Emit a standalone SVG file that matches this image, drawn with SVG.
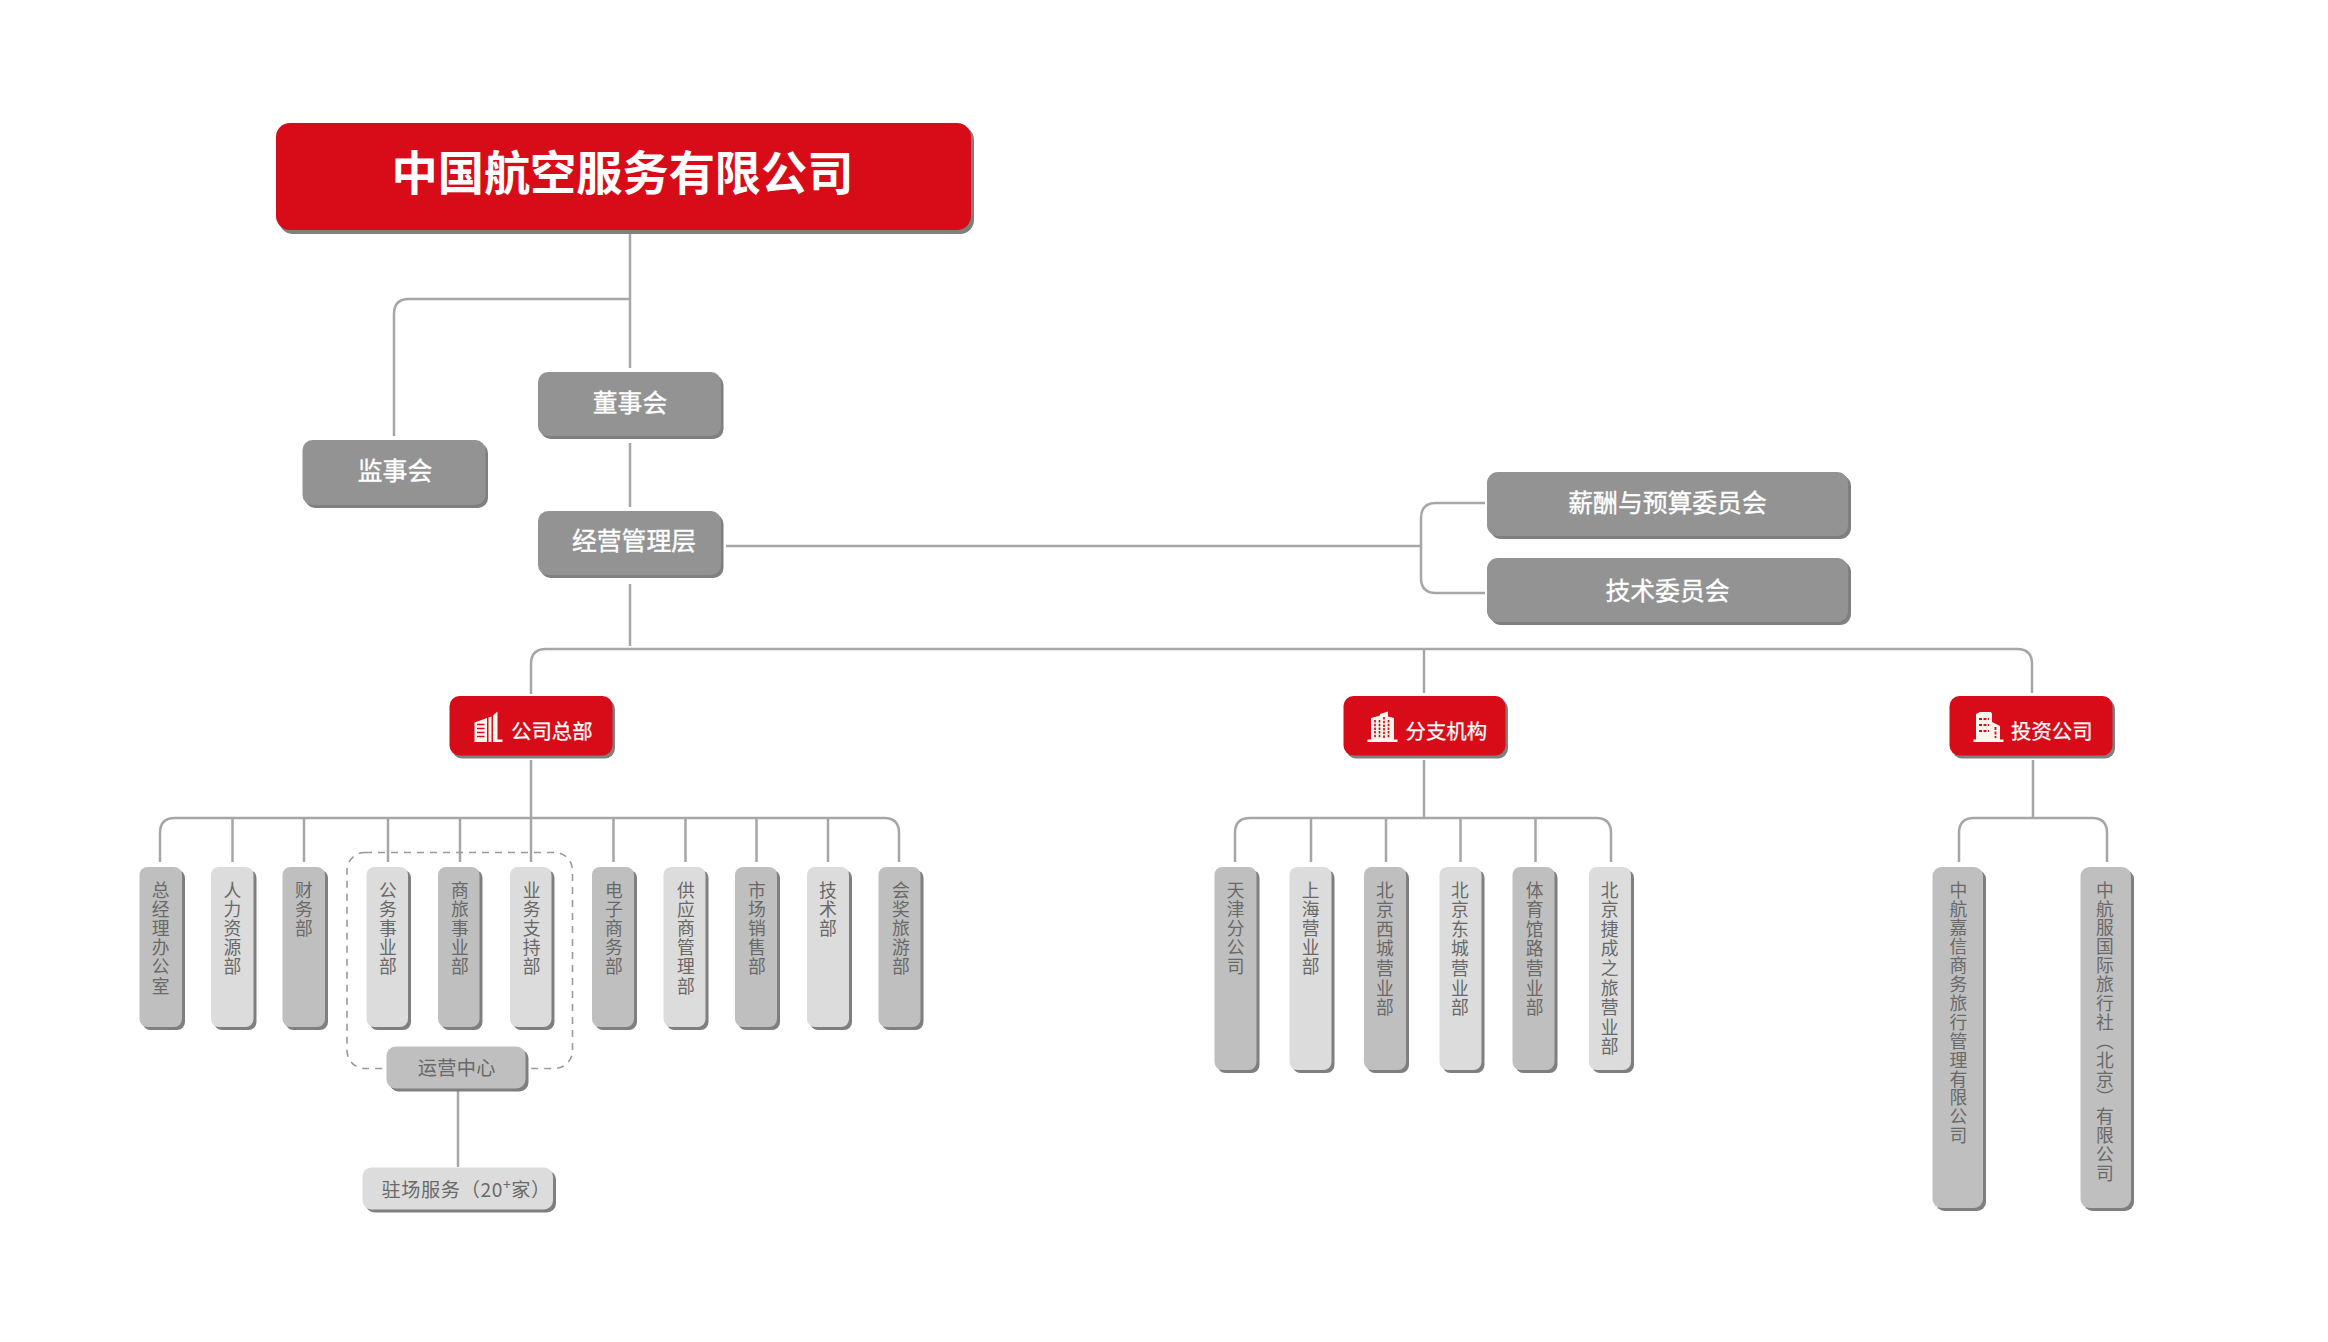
<svg xmlns="http://www.w3.org/2000/svg" width="2328" height="1342" viewBox="0 0 2328 1342">
<style>
text{font-family:"Noto Sans CJK SC","Liberation Sans",sans-serif}
.c{fill:none;stroke:#a6a6a6;stroke-width:2.5}
.d{fill:none;stroke:#999;stroke-width:1.6;stroke-dasharray:7 6}
.sh{fill:#7f7f7f}
.red{fill:#d80c18}
.g1{fill:#939393}
.g2{fill:#bfbfbf}
.g3{fill:#dcdcdc}
.w{fill:#fff;font-size:24.8px;text-anchor:middle;stroke:#fff;stroke-width:.35}
.w2{fill:#fff;font-size:20.4px;text-anchor:start;stroke:#fff;stroke-width:.25}
.t{fill:#696969;font-size:19.2px;text-anchor:middle;letter-spacing:.3px}
.v{fill:#696969;font-size:17.8px;letter-spacing:1.4px;writing-mode:vertical-rl}
.v2{fill:#696969;font-size:17.8px;letter-spacing:1.8px;writing-mode:vertical-rl}
.v3{fill:#696969;font-size:17.8px;letter-spacing:1.1px;writing-mode:vertical-rl}
.ic{fill:#fff6ee}
.win{fill:none;stroke:#d80c18}
</style>
<g id="connectors">
<path class="c" d="M630 234V368"/>
<path class="c" d="M630 299H409Q394 299 394 314V436"/>
<path class="c" d="M630 443V507"/>
<path class="c" d="M630 584V646"/>
<path class="c" d="M726 546H1421"/>
<path class="c" d="M1485 503H1436Q1421 503 1421 518V578Q1421 593 1436 593H1485"/>
<path class="c" d="M531 694V664Q531 649 546 649H2017Q2032 649 2032 664V693"/>
<path class="c" d="M1424 649V693"/>
<path class="c" d="M531 760V862"/>
<path class="c" d="M160 862V833Q160 818 175 818H884Q899 818 899 833V862"/>
<path class="c" d="M232.500 818V862M304 818V862M388 818V862M460 818V862M613.500 818V862M685.500 818V862M756.500 818V862M828 818V862"/>
<path class="c" d="M1424 760V818"/>
<path class="c" d="M1235 862V833Q1235 818 1250 818H1596Q1611 818 1611 833V862"/>
<path class="c" d="M1311 818V862M1386 818V862M1460.500 818V862M1535.500 818V862"/>
<path class="c" d="M2033 760V818"/>
<path class="c" d="M1959 862V833Q1959 818 1974 818H2092Q2107 818 2107 833V862"/>
<path class="c" d="M458 1091V1167"/>
<rect class="d" x="347" y="852.500" width="225.500" height="216" rx="18"/>
</g>

<g id="root"><rect class="sh" x="279" y="126" width="695" height="108" rx="14"/><rect class="red" x="276" y="123" width="695" height="107" rx="14"/><text x="622.500" y="190" fill="#fff" font-size="46.200" font-weight="700" text-anchor="middle">中国航空服务有限公司</text></g>
<g id="board"><rect class="sh" x="540.500" y="375" width="183" height="64" rx="10"/><rect class="g1" x="538" y="372" width="183" height="64" rx="10"/><text class="w" x="630" y="412">董事会</text></g>
<g id="supervisors"><rect class="sh" x="305" y="443" width="183" height="65" rx="10"/><rect class="g1" x="302.500" y="440" width="183" height="65" rx="10"/><text class="w" x="395" y="480">监事会</text></g>
<g id="management"><rect class="sh" x="540.500" y="514" width="183" height="64" rx="10"/><rect class="g1" x="538" y="511" width="183" height="64" rx="10"/><text class="w" x="634" y="550">经营管理层</text></g>
<g id="committee1"><rect class="sh" x="1490" y="475" width="361" height="64" rx="11"/><rect class="g1" x="1487" y="472" width="361" height="64" rx="11"/><text class="w" x="1667.500" y="512">薪酬与预算委员会</text></g>
<g id="committee2"><rect class="sh" x="1490" y="561" width="361" height="64" rx="11"/><rect class="g1" x="1487" y="558" width="361" height="64" rx="11"/><text class="w" x="1667.500" y="600">技术委员会</text></g>

<g id="hq"><rect class="sh" x="452" y="699" width="163" height="59.500" rx="10"/><rect class="red" x="449.500" y="696" width="163" height="59.500" rx="10"/>
<path class="ic" d="M474.500 722.500L487 718V742H474.500ZM488.500 717.500L491.500 716.500V742H488.500ZM493 715.500L497.500 711.500V739.500H502.500V742H493Z"/>
<path class="win" stroke-width="1.500" d="M477 724.500H484.500M477 728.500H484.500M477 732.500H484.500M477 736.500H484.500"/>
<text class="w2" x="511" y="739">公司总部</text></g>
<g id="branch"><rect class="sh" x="1346" y="699" width="162" height="59.500" rx="10"/><rect class="red" x="1343.500" y="696" width="162" height="59.500" rx="10"/>
<path class="ic" d="M1371 739.500V718L1380 715.500V714L1388 711.500V716.500L1394 718V739.500H1397.500V742H1367.500V739.500Z"/>
<path class="win" stroke-width="1.700" stroke-dasharray="2.500 1.200" d="M1375 720V738M1379.500 720V738M1384 717V738M1388.500 720V738"/>
<text class="w2" x="1405.500" y="739">分支机构</text></g>
<g id="invest"><rect class="sh" x="1952" y="699" width="163" height="59.500" rx="10"/><rect class="red" x="1949.500" y="696" width="163" height="59.500" rx="10"/>
<path class="ic" d="M1976 739.500V714L1980 712H1991L1992 714V722L2000 726V739.500H2003.500V742H1973.500V739.500Z"/>
<path class="win" stroke-width="1.800" stroke-dasharray="3 1.500" d="M1979 719H1989M1979 725H1989M1979 731H1989M1995.500 727V738"/>
<text class="w2" x="2011" y="739">投资公司</text></g>

<g id="d1"><rect class="sh" x="142.500" y="870" width="42.500" height="160" rx="8"/><rect class="g2" x="139.500" y="867" width="42.500" height="160" rx="8"/><text class="v" x="160.700" y="881">总经理办公室</text></g>
<g id="d2"><rect class="sh" x="214" y="870" width="42.500" height="160" rx="8"/><rect class="g3" x="211" y="867" width="42.500" height="160" rx="8"/><text class="v" x="232.500" y="881">人力资源部</text></g>
<g id="d3"><rect class="sh" x="285.500" y="870" width="42.500" height="160" rx="8"/><rect class="g2" x="282.500" y="867" width="42.500" height="160" rx="8"/><text class="v" x="304" y="881">财务部</text></g>
<g id="d4"><rect class="sh" x="369.500" y="870" width="41.500" height="160" rx="8"/><rect class="g3" x="366.500" y="867" width="41.500" height="160" rx="8"/><text class="v" x="388" y="881">公务事业部</text></g>
<g id="d5"><rect class="sh" x="441" y="870" width="41.500" height="160" rx="8"/><rect class="g2" x="438" y="867" width="41.500" height="160" rx="8"/><text class="v" x="460" y="881">商旅事业部</text></g>
<g id="d6"><rect class="sh" x="513" y="870" width="41.500" height="160" rx="8"/><rect class="g3" x="510" y="867" width="41.500" height="160" rx="8"/><text class="v" x="531.700" y="881">业务支持部</text></g>
<g id="d7"><rect class="sh" x="595" y="870" width="42" height="160" rx="8"/><rect class="g2" x="592" y="867" width="42" height="160" rx="8"/><text class="v" x="614" y="881">电子商务部</text></g>
<g id="d8"><rect class="sh" x="666.500" y="870" width="42" height="160" rx="8"/><rect class="g3" x="663.500" y="867" width="42" height="160" rx="8"/><text class="v" x="686" y="881">供应商管理部</text></g>
<g id="d9"><rect class="sh" x="738" y="870" width="42" height="160" rx="8"/><rect class="g2" x="735" y="867" width="42" height="160" rx="8"/><text class="v" x="757" y="881">市场销售部</text></g>
<g id="d10"><rect class="sh" x="810" y="870" width="42" height="160" rx="8"/><rect class="g3" x="807" y="867" width="42" height="160" rx="8"/><text class="v" x="828" y="881">技术部</text></g>
<g id="d11"><rect class="sh" x="881.500" y="870" width="42" height="160" rx="8"/><rect class="g2" x="878.500" y="867" width="42" height="160" rx="8"/><text class="v" x="901" y="881">会奖旅游部</text></g>

<g id="ops"><rect class="sh" x="389.500" y="1049.500" width="139" height="42" rx="9"/><rect class="g2" x="386.500" y="1046.500" width="139" height="42" rx="9"/><text class="t" x="456.700" y="1074.500">运营中心</text></g>
<g id="onsite"><rect class="sh" x="365.500" y="1170.500" width="190.500" height="42" rx="9"/><rect class="g3" x="362.500" y="1167.500" width="190.500" height="42" rx="9"/><text class="t" x="381.500" y="1197" style="text-anchor:start;letter-spacing:.6px">驻场服务（20<tspan font-size="14" dy="-7">+</tspan><tspan dy="7">家）</tspan></text></g>

<g id="b1"><rect class="sh" x="1217.500" y="870" width="42" height="203" rx="8"/><rect class="g2" x="1214.500" y="867" width="42" height="203" rx="8"/><text class="v" x="1235.700" y="881">天津分公司</text></g>
<g id="b2"><rect class="sh" x="1292.500" y="870" width="42" height="203" rx="8"/><rect class="g3" x="1289.500" y="867" width="42" height="203" rx="8"/><text class="v" x="1310.700" y="881">上海营业部</text></g>
<g id="b3"><rect class="sh" x="1367" y="870" width="42" height="203" rx="8"/><rect class="g2" x="1364" y="867" width="42" height="203" rx="8"/><text class="v2" x="1385" y="881">北京西城营业部</text></g>
<g id="b4"><rect class="sh" x="1442.500" y="870" width="42" height="203" rx="8"/><rect class="g3" x="1439.500" y="867" width="42" height="203" rx="8"/><text class="v2" x="1460" y="881">北京东城营业部</text></g>
<g id="b5"><rect class="sh" x="1515.500" y="870" width="42" height="203" rx="8"/><rect class="g2" x="1512.500" y="867" width="42" height="203" rx="8"/><text class="v2" x="1534.700" y="881">体育馆路营业部</text></g>
<g id="b6"><rect class="sh" x="1592" y="870" width="42" height="203" rx="8"/><rect class="g3" x="1589" y="867" width="42" height="203" rx="8"/><text class="v2" x="1609.700" y="881">北京捷成之旅营业部</text></g>

<g id="i1"><rect class="sh" x="1935.500" y="870" width="50.500" height="341" rx="9"/><rect class="g2" x="1932.500" y="867" width="50.500" height="341" rx="9"/><text class="v3" x="1958.300" y="881">中航嘉信商务旅行管理有限公司</text></g>
<g id="i2"><rect class="sh" x="2083.500" y="870" width="50.500" height="341" rx="9"/><rect class="g2" x="2080.500" y="867" width="50.500" height="341" rx="9"/><text class="v3" x="2105" y="881">中航服国际旅行社（北京）有限公司</text></g>
</svg>
